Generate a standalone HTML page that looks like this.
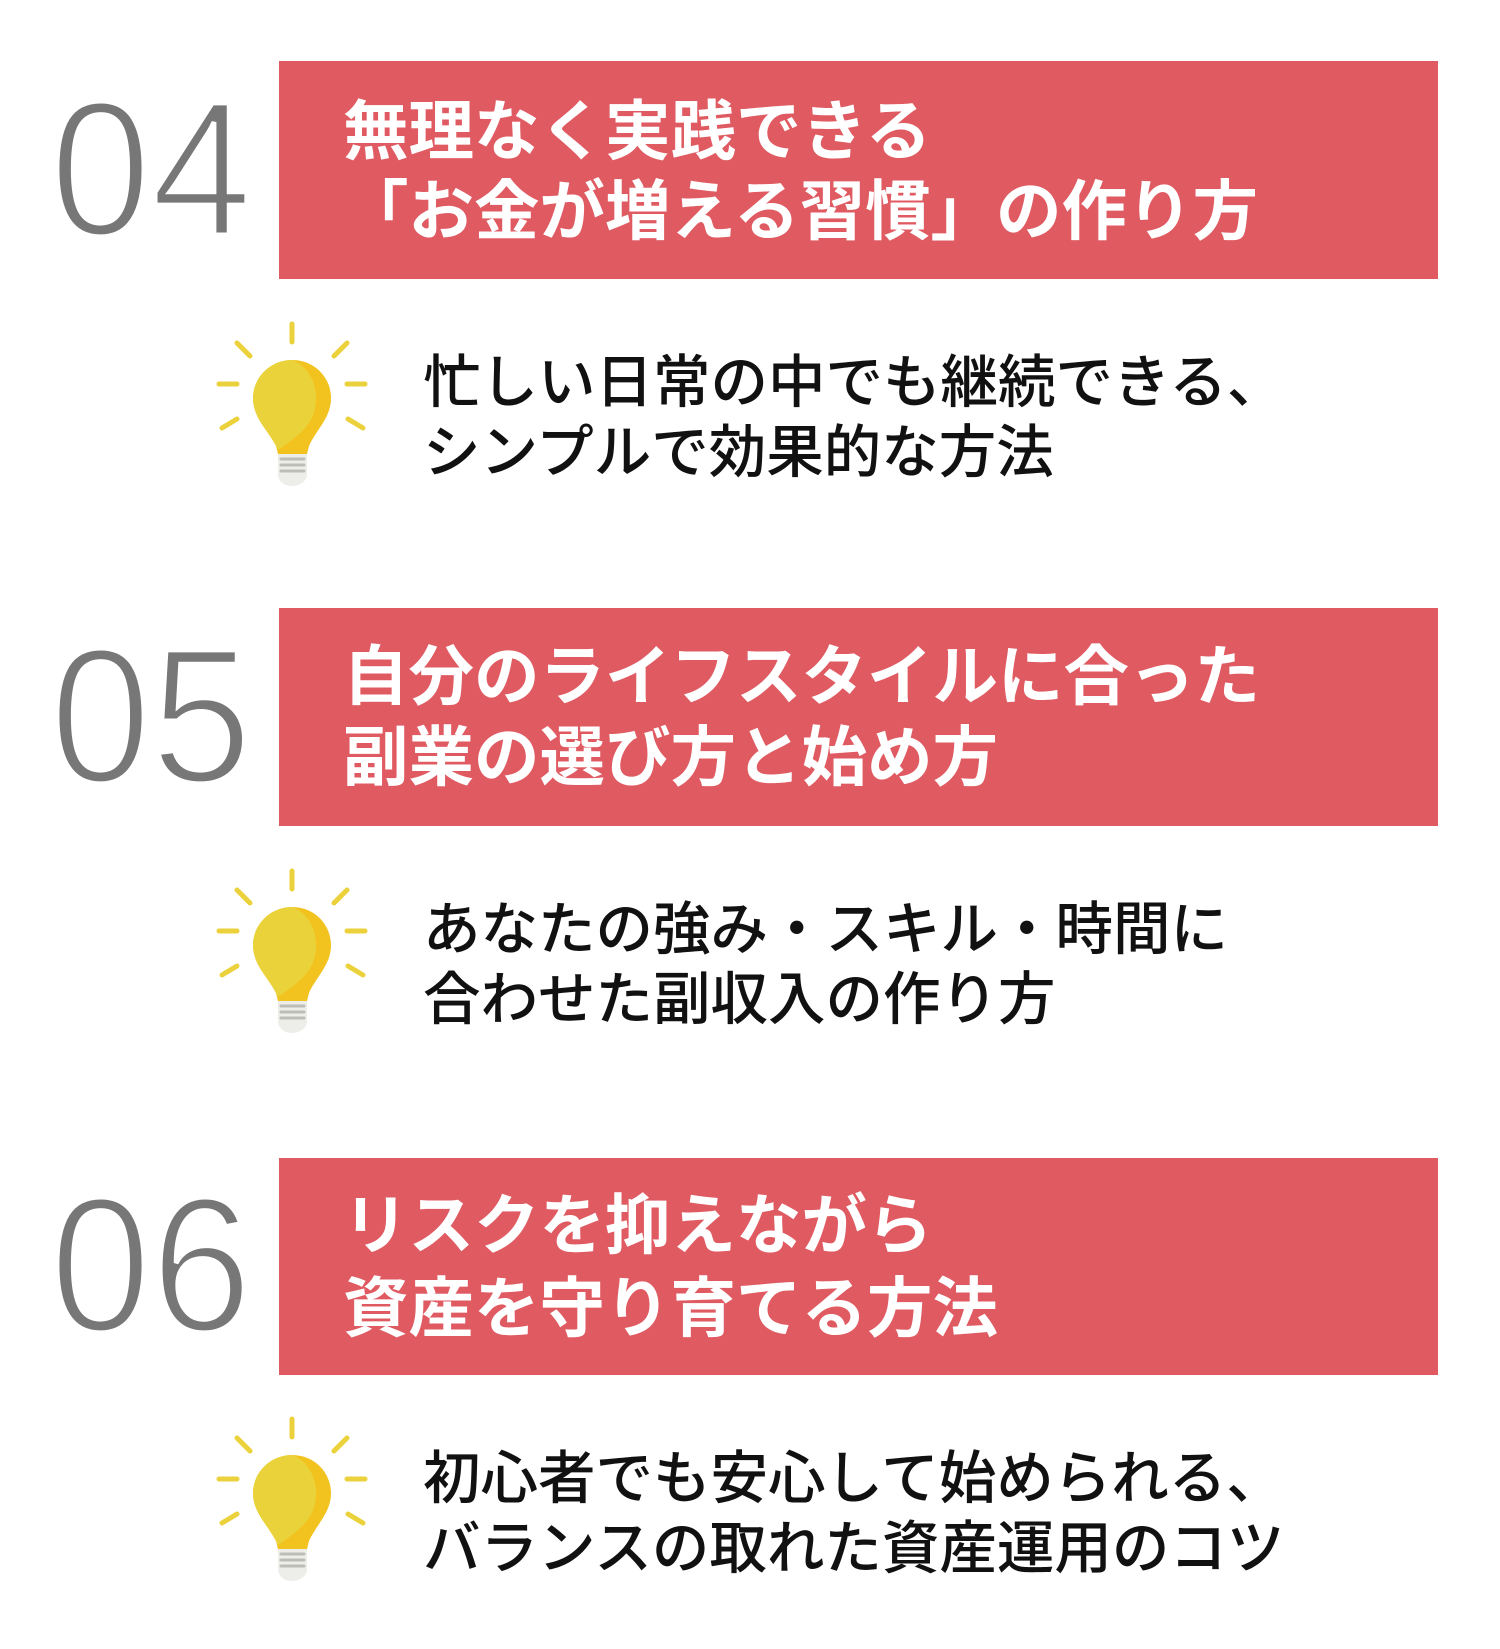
<!DOCTYPE html>
<html><head><meta charset="utf-8"><style>
html,body{margin:0;padding:0;background:#fff;}
svg{display:block;}
.num{font-family:"Liberation Sans",sans-serif;fill:#777;font-size:192px;stroke:#fff;stroke-width:5px;}
.t{font-family:"Liberation Sans","Noto Sans CJK JP",sans-serif;font-weight:bold;fill:#fff;font-size:65.5px;}
.b{font-family:"Liberation Sans","Noto Sans CJK JP",sans-serif;font-weight:500;fill:#111;font-size:57.5px;}
</style></head><body>
<svg width="1500" height="1649" viewBox="0 0 1500 1649" xmlns="http://www.w3.org/2000/svg">
<defs>
<g id="bulb">
  <g stroke="#EBD23C" stroke-width="5" stroke-linecap="round">
    <line x1="292" y1="324" x2="292" y2="342"/>
    <line x1="237" y1="343" x2="250" y2="356"/>
    <line x1="347" y1="343" x2="334" y2="356"/>
    <line x1="219" y1="384" x2="237" y2="384"/>
    <line x1="347" y1="384" x2="365" y2="384"/>
    <line x1="222" y1="428" x2="237" y2="419"/>
    <line x1="363" y1="428" x2="348" y2="419"/>
  </g>
  <path d="M292 360 C315 360 331 378 331 398 C331 418 316 430 309 446 L307 454 L278 454 L276 446 C268 430 253 418 253 398 C253 378 270 360 292 360 Z" fill="#F2C21E"/>
  <path d="M292 360 C308 366 316 382 316 398 C316 420 305 432 278 450 L276 446 C268 430 253 418 253 398 C253 378 270 360 292 360 Z" fill="#EAD33A"/>
  <path d="M278 454 L307 454 L307 474 C307 481 300 486 292 486 C284 486 278 481 278 474 Z" fill="#EDEDEA"/>
  <g stroke="#BDBDB8" stroke-width="3" stroke-linecap="round">
    <line x1="281" y1="459" x2="304" y2="459"/>
    <line x1="281" y1="465" x2="304" y2="465"/>
    <line x1="281" y1="471" x2="304" y2="471"/>
  </g>
</g>
</defs>

<!-- section 04 -->
<text class="num" x="50" y="235" textLength="202" lengthAdjust="spacingAndGlyphs">04</text>
<rect x="279" y="61" width="1159" height="218" fill="#E05A62"/>
<text class="t" x="343" y="154">無理なく実践できる</text>
<text class="t" x="343" y="234">「お金が増える習慣」の作り方</text>
<use href="#bulb"/>
<text class="b" x="423" y="402">忙しい日常の中でも継続できる、</text>
<text class="b" x="423" y="472">シンプルで効果的な方法</text>

<!-- section 05 -->
<g transform="translate(0,-2)">
<text class="num" x="50" y="784" textLength="202" lengthAdjust="spacingAndGlyphs">05</text>
<rect x="279" y="610" width="1159" height="218" fill="#E05A62"/>
<text class="t" x="343" y="701">自分のライフスタイルに合った</text>
<text class="t" x="343" y="782">副業の選び方と始め方</text>
<use href="#bulb" transform="translate(0,549)"/>
<text class="b" x="423" y="951">あなたの強み・スキル・時間に</text>
<text class="b" x="423" y="1021">合わせた副収入の作り方</text>
</g>

<!-- section 06 -->
<g transform="translate(0,-5)">
<text class="num" x="50" y="1336" textLength="202" lengthAdjust="spacingAndGlyphs">06</text>
<rect x="279" y="1163" width="1159" height="217" fill="#E05A62"/>
<text class="t" x="343" y="1253">リスクを抑えながら</text>
<text class="t" x="343" y="1336">資産を守り育てる方法</text>
<use href="#bulb" transform="translate(0,1100)"/>
<text class="b" x="423" y="1503">初心者でも安心して始められる、</text>
<text class="b" x="423" y="1573">バランスの取れた資産運用のコツ</text>
</g>
</svg>
</body></html>
